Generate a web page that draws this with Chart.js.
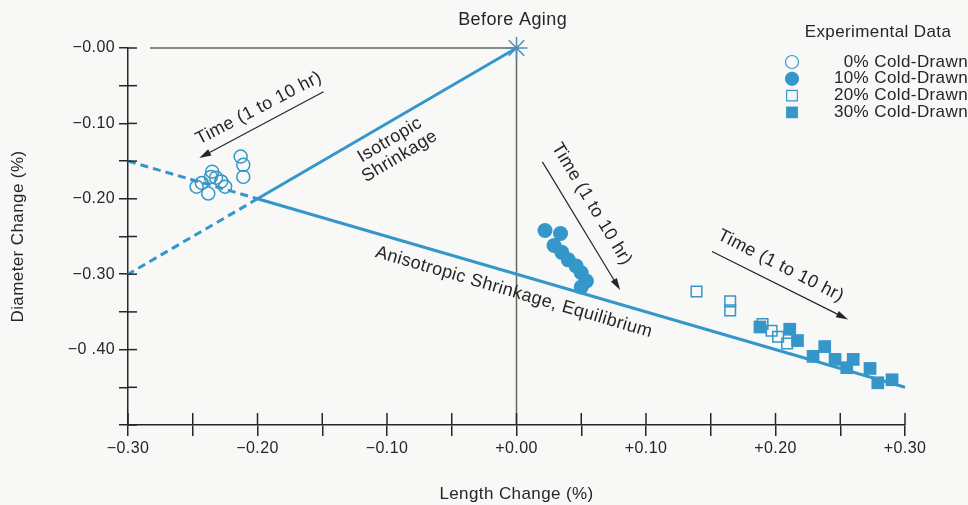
<!DOCTYPE html>
<html>
<head>
<meta charset="utf-8">
<title>Length / Diameter Change</title>
<script src="https://cdn.jsdelivr.net/npm/chart.js@4.4.1/dist/chart.umd.min.js"></script>
<style>
  html, body { margin: 0; padding: 0; background: #f8f9f6; }
  canvas { display: block; }
</style>
</head>
<body>
<canvas id="agingChart" width="968" height="505" style="width:968px;height:505px"></canvas>
<script>
// Nhãn trục
const xTickValues = [-0.3, -0.2, -0.1, 0, 0.1, 0.2, 0.3];
const xTickLabels = ["−0.30", "−0.20", "−0.10", "+0.00", "+0.10", "+0.20", "+0.30"];
const yTickValues = [0, -0.1, -0.2, -0.3, -0.4];
const yTickLabels = ["−0.00", "−0.10", "−0.20", "−0.30", "−0 .40"];

// Dữ liệu thực nghiệm (Length, Diameter) – %
const cold0Length = [-0.247, -0.243, -0.238, -0.236, -0.235, -0.232, -0.228, -0.225, -0.213, -0.211, -0.211];
const cold0Diameter = [-0.184, -0.179, -0.193, -0.171, -0.164, -0.172, -0.177, -0.184, -0.144, -0.155, -0.171];

const cold10Length = [0.022, 0.034, 0.029, 0.035, 0.040, 0.046, 0.050, 0.054, 0.050];
const cold10Diameter = [-0.242, -0.246, -0.262, -0.271, -0.281, -0.289, -0.298, -0.309, -0.317];

const cold20Length = [0.139, 0.165, 0.165, 0.190, 0.197, 0.202, 0.209];
const cold20Diameter = [-0.323, -0.336, -0.348, -0.366, -0.375, -0.383, -0.392];

const cold30Length = [0.188, 0.211, 0.217, 0.229, 0.238, 0.246, 0.260, 0.255, 0.273, 0.279, 0.290];
const cold30Diameter = [-0.370, -0.373, -0.388, -0.409, -0.396, -0.413, -0.413, -0.424, -0.425, -0.444, -0.440];

// Đường lý thuyết
const isoSolidLength = [0, -0.20];
const isoSolidDiameter = [0, -0.20];
const isoDashLength = [-0.20, -0.30];
const isoDashDiameter = [-0.20, -0.30];
const anisoSolidLength = [-0.20, 0.30];
const anisoSolidDiameter = [-0.20, -0.45];
const anisoDashLength = [-0.30, -0.20];
const anisoDashDiameter = [-0.15, -0.20];

// Điểm gốc và đường chữ thập
const beforeAgingLength = [0];
const beforeAgingDiameter = [0];
const zeroHLength = [-0.283, 0];
const zeroHDiameter = [0, 0];
const zeroVLength = [0, 0];
const zeroVDiameter = [0, -0.5];

const BLUE = "#3597c9";
const INK = "#262626";
const FONT = "'Liberation Sans', Arial, sans-serif";

function pts(xs, ys) {
  return xs.map((x, i) => ({ x: x, y: ys[i] }));
}

function labelFor(values, labels, v) {
  const idx = values.findIndex(t => Math.abs(t - v) < 1e-6);
  return idx >= 0 ? labels[idx] : "";
}

// Giãn chữ một chút cho giống bản in
const spacing = {
  id: "spacing",
  beforeLayout(chart) { chart.ctx.letterSpacing = "0.4px"; },
  beforeDraw(chart) { chart.ctx.letterSpacing = "0.4px"; }
};

// Vạch chia cắt ngang trục (phần nằm trong vùng vẽ)
const crossTicks = {
  id: "crossTicks",
  afterDraw(chart) {
    const { ctx, chartArea, scales } = chart;
    ctx.save();
    ctx.strokeStyle = INK;
    ctx.lineWidth = 1.5;
    scales.x.ticks.forEach(t => {
      const px = scales.x.getPixelForValue(t.value);
      ctx.beginPath();
      ctx.moveTo(px, chartArea.bottom);
      ctx.lineTo(px, chartArea.bottom - 12);
      ctx.stroke();
    });
    scales.y.ticks.forEach(t => {
      const py = scales.y.getPixelForValue(t.value);
      ctx.beginPath();
      ctx.moveTo(chartArea.left, py);
      ctx.lineTo(chartArea.left + 9, py);
      ctx.stroke();
    });
    ctx.restore();
  }
};

function drawArrow(ctx, x1, y1, x2, y2) {
  const a = Math.atan2(y2 - y1, x2 - x1);
  ctx.beginPath();
  ctx.moveTo(x1, y1);
  ctx.lineTo(x2 - 8 * Math.cos(a), y2 - 8 * Math.sin(a));
  ctx.stroke();
  ctx.beginPath();
  ctx.moveTo(x2, y2);
  ctx.lineTo(x2 - 12 * Math.cos(a) + 3.5 * Math.sin(a), y2 - 12 * Math.sin(a) - 3.5 * Math.cos(a));
  ctx.lineTo(x2 - 12 * Math.cos(a) - 3.5 * Math.sin(a), y2 - 12 * Math.sin(a) + 3.5 * Math.cos(a));
  ctx.closePath();
  ctx.fill();
}

function drawRotated(ctx, lines, x, y, deg, lh) {
  ctx.save();
  ctx.translate(x, y);
  ctx.rotate(deg * Math.PI / 180);
  const off = (lines.length - 1) * lh / 2;
  lines.forEach((s, i) => ctx.fillText(s, 0, i * lh - off));
  ctx.restore();
}

// Chú thích chữ, mũi tên và bảng ký hiệu
const annotations = {
  id: "annotations",
  afterDraw(chart) {
    const { ctx, scales } = chart;
    const X = v => scales.x.getPixelForValue(v);
    const Y = v => scales.y.getPixelForValue(v);
    ctx.save();
    ctx.fillStyle = INK;
    ctx.strokeStyle = INK;
    ctx.lineWidth = 1.2;
    ctx.textAlign = "center";
    ctx.textBaseline = "middle";
    ctx.letterSpacing = "0.4px";
    ctx.font = "18px " + FONT;

    ctx.fillText("Before Aging", X(-0.003), Y(0.037));

    drawArrow(ctx, X(-0.149), Y(-0.058), X(-0.245), Y(-0.146));
    drawRotated(ctx, ["Time (1 to 10 hr)"], X(-0.199), Y(-0.080), -27.5, 19);

    drawRotated(ctx, ["Isotropic", "Shrinkage"], X(-0.094), Y(-0.133), -31, 19);

    drawArrow(ctx, X(0.020), Y(-0.151), X(0.080), Y(-0.321));
    drawRotated(ctx, ["Time (1 to 10 hr)"], X(0.058), Y(-0.207), 59, 19);

    drawRotated(ctx, ["Anisotropic Shrinkage, Equilibrium"], X(-0.002), Y(-0.324), 16.3, 19);

    drawArrow(ctx, X(0.151), Y(-0.270), X(0.256), Y(-0.360));
    drawRotated(ctx, ["Time (1 to 10 hr)"], X(0.204), Y(-0.289), 27, 19);

    // Bảng ký hiệu
    ctx.font = "17px " + FONT;
    ctx.fillText("Experimental Data", 878, 32);
    const sets = chart.data.datasets.slice(0, 4);
    ctx.textAlign = "right";
    sets.forEach((ds, i) => {
      const y = 62 + i * 16.8;
      ctx.save();
      ctx.fillStyle = ds.pointBackgroundColor === "transparent" ? "#f8f9f6" : BLUE;
      ctx.strokeStyle = BLUE;
      Chart.helpers.drawPoint(ctx, {
        pointStyle: ds.pointStyle,
        radius: ds.pointStyle === "rect" ? 7.5 : 6.5,
        rotation: 0,
        borderWidth: 1.5
      }, 792, y);
      ctx.restore();
      ctx.fillStyle = INK;
      ctx.fillText(ds.label, 968, y);
    });
    ctx.restore();
  }
};

const ctx = document.getElementById("agingChart").getContext("2d");

const lineBase = { showLine: true, pointRadius: 0, clip: false, fill: false };

new Chart(ctx, {
  type: "scatter",
  data: {
    datasets: [
      {
        label: "0% Cold-Drawn",
        data: pts(cold0Length, cold0Diameter),
        pointStyle: "circle",
        pointRadius: 6.5,
        pointBorderWidth: 1.5,
        pointBorderColor: BLUE,
        pointBackgroundColor: "transparent",
        clip: false
      },
      {
        label: "10% Cold-Drawn",
        data: pts(cold10Length, cold10Diameter),
        pointStyle: "circle",
        pointRadius: 7.5,
        pointBorderWidth: 0,
        pointBorderColor: BLUE,
        pointBackgroundColor: BLUE,
        clip: false
      },
      {
        label: "20% Cold-Drawn",
        data: pts(cold20Length, cold20Diameter),
        pointStyle: "rect",
        pointRadius: 7.5,
        pointBorderWidth: 1.5,
        pointBorderColor: BLUE,
        pointBackgroundColor: "transparent",
        clip: false
      },
      {
        label: "30% Cold-Drawn",
        data: pts(cold30Length, cold30Diameter),
        pointStyle: "rect",
        pointRadius: 9,
        pointBorderWidth: 0,
        pointBorderColor: BLUE,
        pointBackgroundColor: BLUE,
        clip: false
      },
      {
        label: "Before Aging",
        data: pts(beforeAgingLength, beforeAgingDiameter),
        pointStyle: "star",
        pointRadius: 11,
        pointBorderWidth: 1.5,
        pointBorderColor: "#4f8db3",
        clip: false
      },
      Object.assign({ label: "iso", data: pts(isoSolidLength, isoSolidDiameter), borderColor: BLUE, borderWidth: 3 }, lineBase),
      Object.assign({ label: "iso-dash", data: pts(isoDashLength, isoDashDiameter), borderColor: BLUE, borderWidth: 3, borderDash: [8, 5] }, lineBase),
      Object.assign({ label: "aniso", data: pts(anisoSolidLength, anisoSolidDiameter), borderColor: BLUE, borderWidth: 3 }, lineBase),
      Object.assign({ label: "aniso-dash", data: pts(anisoDashLength, anisoDashDiameter), borderColor: BLUE, borderWidth: 3, borderDash: [8, 5] }, lineBase),
      Object.assign({ label: "zero-h", data: pts(zeroHLength, zeroHDiameter), borderColor: "#5e6b60", borderWidth: 1.5 }, lineBase),
      Object.assign({ label: "zero-v", data: pts(zeroVLength, zeroVDiameter), borderColor: "#5e6b60", borderWidth: 1.5 }, lineBase)
    ]
  },
  options: {
    responsive: false,
    animation: false,
    layout: { padding: { top: 48, right: 63, left: 0, bottom: 0 } },
    plugins: { legend: { display: false }, tooltip: { enabled: false } },
    scales: {
      x: {
        type: "linear",
        min: -0.3,
        max: 0.3,
        afterFit: s => { s.height = 80; },
        border: { display: true, color: INK, width: 1.5 },
        grid: { drawOnChartArea: false, drawTicks: true, tickLength: 11, color: INK, lineWidth: 1.5 },
        ticks: {
          stepSize: 0.05,
          autoSkip: false,
          maxRotation: 0,
          padding: 3,
          color: INK,
          font: { family: FONT, size: 16 },
          callback: v => labelFor(xTickValues, xTickLabels, v)
        },
        title: {
          display: true,
          text: "Length Change (%)",
          color: INK,
          font: { family: FONT, size: 17 },
          padding: { top: 0, bottom: 0 }
        }
      },
      y: {
        type: "linear",
        min: -0.5,
        max: 0,
        afterFit: s => { s.width = 128; },
        border: { display: true, color: INK, width: 1.5 },
        grid: { drawOnChartArea: false, drawTicks: true, tickLength: 9, color: INK, lineWidth: 1.5 },
        ticks: {
          stepSize: 0.05,
          autoSkip: false,
          padding: 4,
          color: INK,
          font: { family: FONT, size: 16 },
          callback: v => labelFor(yTickValues, yTickLabels, v)
        },
        title: {
          display: true,
          text: "Diameter Change (%)",
          color: INK,
          font: { family: FONT, size: 17 },
          padding: { top: 8, bottom: 0 }
        }
      }
    }
  },
  plugins: [spacing, crossTicks, annotations]
});
</script>
</body>
</html>
